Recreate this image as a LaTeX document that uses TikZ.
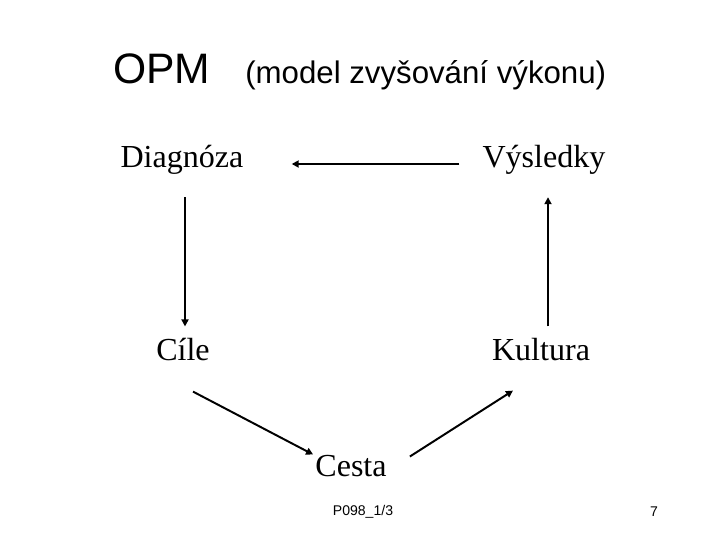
\documentclass[tikz,border=0pt]{standalone}
\usepackage{fontspec}
\setmainfont{Liberation Serif}
\setsansfont{Liberation Sans}
\usetikzlibrary{arrows.meta}

\tikzset{
  lbl/.style={inner sep=0pt, anchor=base, font=\fontsize{22.8}{26}\selectfont},
  arr/.style={line width=1.4pt, -{Triangle[length=5pt,width=5pt]}},
}

\begin{document}
\begin{tikzpicture}[x=0.025cm, y=-0.025cm]
    % plocha 720 x 540 bodu
    \useasboundingbox (0,0) rectangle (720,540);

    % nadpis
    \node[anchor=base west, inner sep=0pt, font=\sffamily\fontsize{30.3}{34}\selectfont] (opm) at (113,83) {OPM};
    \node[anchor=base west, inner sep=0pt, font=\sffamily\fontsize{22.2}{26}\selectfont] (model) at (245,83) {(model zvyšování výkonu)};

    % uzly cyklu
    \node[lbl] (diag) at (182,167) {Diagnóza};
    \node[lbl] (vysl) at (544,167) {Výsledky};
    \node[lbl] (cile) at (183,360) {Cíle};
    \node[lbl] (kult) at (541,360) {Kultura};
    \node[lbl] (cesta) at (351,476) {Cesta};

    % sipky
    \draw[arr] ([shift={(-23,-3)}]vysl.base west) -- ([shift={(48,-3)}]diag.base east);
    \draw[arr] ([shift={(3,23)}]diag.south) -- ([shift={(2,-11)}]cile.north);
    \draw[arr] ([shift={(10,31)}]cile.south) -- ([shift={(-2,0)}]cesta.north west);
    \draw[arr] ([shift={(23,2)}]cesta.north east) -- ([shift={(-28,30)}]kult.south);
    \draw[arr] ([shift={(7,-11)}]kult.north) -- ([shift={(4,23)}]vysl.south);

    % pata
    \node[inner sep=0pt, font=\sffamily\fontsize{10}{12}\selectfont] (kod) at (363,512) {P098\_1/3};
    \node[inner sep=0pt, font=\sffamily\fontsize{10}{12}\selectfont] (cislo) at (654,512) {7};
\end{tikzpicture}
\end{document}
